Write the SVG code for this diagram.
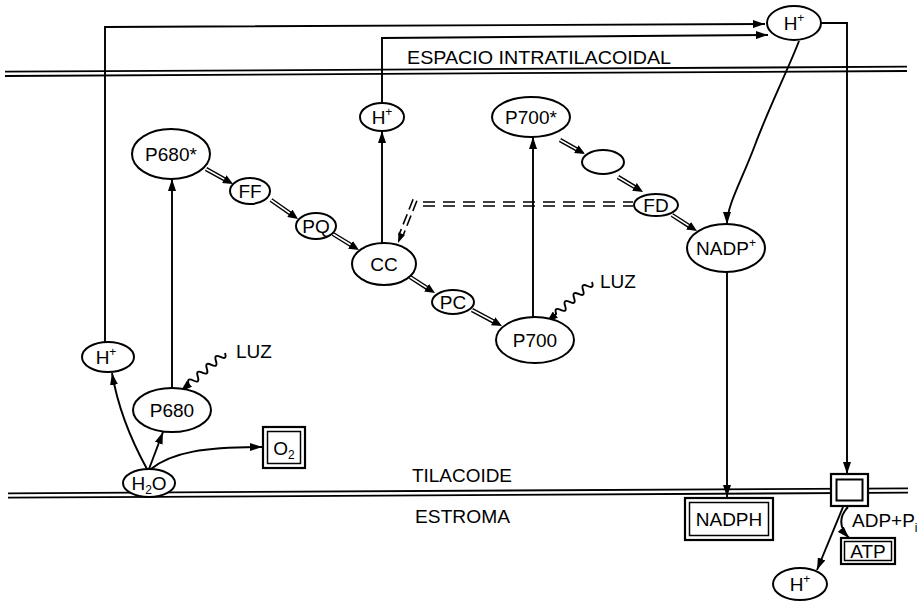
<svg xmlns="http://www.w3.org/2000/svg" width="922" height="601" viewBox="0 0 922 601">
<style>
text{font-family:"Liberation Sans",Arial,sans-serif;font-size:19px;fill:#000}
.lbl{text-anchor:middle}
.n{fill:#fff;stroke:#000;stroke-width:2}
.c{fill:none;stroke:#000;stroke-width:1.9}
.m{fill:none;stroke:#000;stroke-width:1.8}
.db{stroke:#000;stroke-width:4.4;fill:none}
.dw{stroke:#fff;stroke-width:1.6;fill:none}
.dsh{stroke:#000;stroke-width:1.6;fill:none;stroke-dasharray:12 8}
.bo{fill:#fff;stroke:#000;stroke-width:2.2}
.bi{fill:none;stroke:#000;stroke-width:1.5}
</style>
<defs>
<marker id="a" markerUnits="userSpaceOnUse" markerWidth="12" markerHeight="8" refX="12" refY="4" orient="auto"><path d="M0,0 L12,4 L0,8 z" fill="#000"/></marker>
<marker id="d" markerUnits="userSpaceOnUse" markerWidth="10" markerHeight="9" refX="4" refY="4.5" orient="auto"><path d="M0,0 L10,4.5 L0,9 z" fill="#000"/></marker>
</defs>
<rect width="922" height="601" fill="#fff"/>
<g id="membranes">
<line class="m" x1="5" y1="71.7" x2="907" y2="66.7"/>
<line class="m" x1="5" y1="76" x2="907" y2="71"/>
<line class="m" x1="8" y1="493.3" x2="908" y2="488.3"/>
<line class="m" x1="8" y1="497.7" x2="908" y2="492.7"/>
</g>
<g id="region-labels">
<text x="407" y="64" textLength="264" lengthAdjust="spacingAndGlyphs" font-size="18.5">ESPACIO INTRATILACOIDAL</text>
<text x="412" y="482" textLength="100" lengthAdjust="spacingAndGlyphs" font-size="18.5">TILACOIDE</text>
<text x="415" y="523" textLength="95" lengthAdjust="spacingAndGlyphs" font-size="18.5">ESTROMA</text>
<text x="236" y="358">LUZ</text>
<text x="600" y="288">LUZ</text>
<text x="852" y="527" font-size="18">ADP+P<tspan font-size="12" dy="5">i</tspan></text>
</g>
<g id="connectors">
<polyline class="c" points="105,342 105,27 765,24" marker-end="url(#a)"/>
<polyline class="c" points="382,103 382,38 768,35" marker-end="url(#a)"/>
<line class="c" x1="382" y1="243" x2="382" y2="131" marker-end="url(#a)"/>
<polyline class="c" points="821,23 847,23 847,474" marker-end="url(#a)"/>
<path class="c" d="M799,41 C790,65 768,110 755,145 S727,205 727,224" marker-end="url(#a)"/>
<line class="c" x1="727" y1="272" x2="727" y2="497" marker-end="url(#a)"/>
<line class="c" x1="172" y1="389" x2="172" y2="179" marker-end="url(#a)"/>
<path class="c" d="M147,469 Q120,420 112,373" marker-end="url(#a)"/>
<line class="c" x1="149" y1="469" x2="163" y2="432" marker-end="url(#a)"/>
<path class="c" d="M151,469 C172,452 205,447 262,447" marker-end="url(#a)"/>
<line class="c" x1="843" y1="507" x2="817" y2="570" marker-end="url(#a)"/>
<path class="c" d="M848,507 Q834,522 849,538" marker-end="url(#a)"/>
<path class="c" transform="translate(225,353) rotate(139.1)" d="M0,0 q3,-7 6,0 t6,0 t6,0 t6,0 t6,0 t6,0 t6,0 t6,0 L59,0" marker-end="url(#a)"/>
<path class="c" transform="translate(592,282) rotate(138.3)" d="M0,0 q3,-7 6,0 t6,0 t6,0 t6,0 t6,0 t6,0 t6,0 t6,0 L61,0" marker-end="url(#a)"/>
<line class="dsh" x1="423" y1="202" x2="633" y2="202"/>
<line class="dsh" x1="423" y1="206" x2="633" y2="206"/>
<line class="dsh" style="stroke-dasharray:11 5" x1="416.9" y1="200.7" x2="402.8" y2="236.3"/>
<line class="dsh" style="stroke-dasharray:11 5" x1="413.1" y1="199.3" x2="399" y2="234.9"/>
<polygon points="398,243 404.9,235 398.4,232.4" fill="#000"/>
<line class="c" x1="533" y1="318" x2="533" y2="137" marker-end="url(#a)"/>
<line class="db" x1="206" y1="169" x2="227.8" y2="181.1" marker-end="url(#d)"/>
<line class="dw" x1="206" y1="169" x2="224.3" y2="179.1"/>
<line class="db" x1="271" y1="200" x2="293.1" y2="215.5" marker-end="url(#d)"/>
<line class="dw" x1="271" y1="200" x2="289.8" y2="213.2"/>
<line class="db" x1="333" y1="234" x2="353.9" y2="246.9" marker-end="url(#d)"/>
<line class="dw" x1="333" y1="234" x2="350.5" y2="244.8"/>
<line class="db" x1="410" y1="277" x2="429.9" y2="289.8" marker-end="url(#d)"/>
<line class="dw" x1="410" y1="277" x2="426.6" y2="287.6"/>
<line class="db" x1="472" y1="310" x2="496.7" y2="323.2" marker-end="url(#d)"/>
<line class="dw" x1="472" y1="310" x2="493.2" y2="321.3"/>
<line class="db" x1="560" y1="140" x2="579.8" y2="151.1" marker-end="url(#d)"/>
<line class="dw" x1="560" y1="140" x2="576.3" y2="149.1"/>
<line class="db" x1="618" y1="177" x2="637.9" y2="188.9" marker-end="url(#d)"/>
<line class="dw" x1="618" y1="177" x2="634.4" y2="186.9"/>
<line class="db" x1="672" y1="215" x2="691.9" y2="227.8" marker-end="url(#d)"/>
<line class="dw" x1="672" y1="215" x2="688.6" y2="225.6"/>
</g>
<g id="P680star"><ellipse class="n" cx="171" cy="154" rx="39" ry="25"/><text class="lbl" x="171" y="161">P680*</text></g>
<g id="FF"><ellipse class="n" cx="250" cy="191" rx="20" ry="13"/><text class="lbl" x="250" y="198">FF</text></g>
<g id="PQ"><ellipse class="n" cx="316" cy="226" rx="20" ry="13"/><text class="lbl" x="316" y="233">PQ</text></g>
<g id="CC"><ellipse class="n" cx="384" cy="264" rx="32" ry="21"/><text class="lbl" x="384" y="271">CC</text></g>
<g id="PC"><ellipse class="n" cx="453" cy="302" rx="21" ry="12"/><text class="lbl" x="453" y="309">PC</text></g>
<g id="P700"><ellipse class="n" cx="535" cy="340" rx="39" ry="23"/><text class="lbl" x="535" y="347">P700</text></g>
<g id="H_CC"><ellipse class="n" cx="382" cy="117" rx="22" ry="14"/><text class="lbl" x="382" y="124">H<tspan font-size="12" dy="-8">+</tspan></text></g>
<g id="P700star"><ellipse class="n" cx="531" cy="117" rx="39" ry="20"/><text class="lbl" x="531" y="124">P700*</text></g>
<g id="acceptor"><ellipse class="n" cx="603" cy="162" rx="21" ry="12"/></g>
<g id="FD"><ellipse class="n" cx="656" cy="205" rx="22" ry="11"/><text class="lbl" x="656" y="212">FD</text></g>
<g id="NADP"><ellipse class="n" cx="726" cy="248" rx="39" ry="24"/><text class="lbl" x="726" y="255">NADP<tspan font-size="12" dy="-8">+</tspan></text></g>
<g id="H_top"><ellipse class="n" cx="794" cy="23" rx="27" ry="17"/><text class="lbl" x="794" y="30">H<tspan font-size="12" dy="-8">+</tspan></text></g>
<g id="H_left"><ellipse class="n" cx="108" cy="357" rx="26" ry="15"/><text class="lbl" x="106" y="364">H<tspan font-size="12" dy="-8">+</tspan></text></g>
<g id="P680"><ellipse class="n" cx="172" cy="410" rx="39" ry="22"/><text class="lbl" x="172" y="417">P680</text></g>
<g id="H2O"><ellipse class="n" cx="149" cy="483" rx="26" ry="14"/><text class="lbl" x="149" y="490">H<tspan font-size="12" dy="4">2</tspan><tspan dy="-4">O</tspan></text></g>
<g id="H_bottom"><ellipse class="n" cx="800" cy="584" rx="27" ry="16"/><text class="lbl" x="800" y="591">H<tspan font-size="12" dy="-8">+</tspan></text></g>
<g id="O2"><rect class="bo" x="263" y="427" width="42" height="41"/><rect class="bi" x="267.5" y="431.5" width="33" height="32"/><text class="lbl" x="284" y="455">O<tspan font-size="12" dy="4">2</tspan></text></g>
<g id="NADPH"><rect class="bo" x="685" y="498" width="88" height="42"/><rect class="bi" x="689.5" y="502.5" width="79" height="33"/><text class="lbl" x="729" y="526">NADPH</text></g>
<g id="ATPsynthase"><rect class="bo" x="831" y="474" width="37" height="32"/><rect class="bi" x="836.5" y="479.5" width="26" height="21" style="stroke-width:2"/></g>
<g id="ATP"><rect class="bo" x="841" y="538" width="54" height="26"/><rect class="bi" x="844.5" y="541.5" width="47" height="19"/><text class="lbl" x="868" y="558">ATP</text></g>
</svg>
